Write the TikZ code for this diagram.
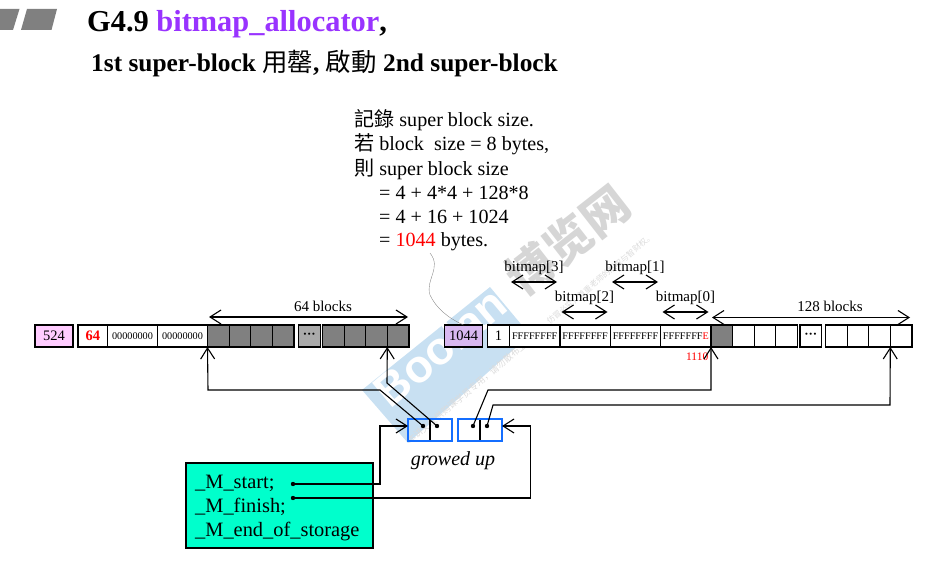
\documentclass[tikz,border=0pt]{standalone}
\usepackage{fontspec}
\setmainfont{Liberation Serif}
\newfontfamily\cjk{Noto Sans CJK TC}
\newfontfamily\cjksc{Noto Sans CJK SC}
\newfontfamily\wmfont{Liberation Sans}
\usetikzlibrary{arrows.meta,positioning}
\definecolor{pinkcell}{RGB}{255,204,255}
\definecolor{violetcell}{RGB}{216,184,240}
\definecolor{graycell}{RGB}{128,128,128}
\definecolor{dotcell}{RGB}{170,170,170}
\definecolor{titlepurple}{RGB}{153,51,255}
\definecolor{slotblue}{RGB}{20,110,255}
\definecolor{greenbox}{RGB}{0,255,204}
\definecolor{bandblue}{RGB}{200,224,242}
\tikzset{
    cell/.style={draw, fill=white, line width=1.2pt, outer sep=0pt, minimum height=22pt, inner sep=0pt, anchor=west, font=\fontsize{14.5}{14.5}\selectfont},
    hexcell/.style={cell, minimum width=50.4pt, font=\fontsize{10.2}{10.2}\selectfont},
    block/.style={cell, minimum width=21.6pt},
    full/.style={block, fill=graycell},
    dots/.style={block, font=\bfseries\fontsize{13}{13}\selectfont},
    slot/.style={minimum width=22pt, minimum height=22pt, inner sep=0pt, outer sep=0pt, anchor=west},
    span/.style={{Straight Barb[length=11pt,width=14pt]}-{Straight Barb[length=11pt,width=14pt]}, line width=1.1pt},
    link/.style={-{Straight Barb[length=11pt,width=14pt]}, line width=1.1pt},
    lab/.style={font=\fontsize{15}{15}\selectfont, inner sep=0pt},
    note/.style={font=\fontsize{20.1}{20.1}\selectfont, inner sep=0pt, anchor=west},
    member/.style={font=\fontsize{20.4}{20.4}\selectfont, inner sep=0pt, anchor=west},
    pin/.style={circle, fill, inner sep=0pt, minimum size=4.4pt}
}
\begin{document}
\begin{tikzpicture}[x=1pt,y=-1pt]
    \useasboundingbox (0,0) rectangle (932,564);

    % watermark goes first
    \fill[bandblue] (362,390) -- (490,287) -- (530,335) -- (408,443) -- cycle;
    \node[rotate=40, text=white, font=\wmfont\bfseries\fontsize{46}{46}\selectfont, inner sep=0pt] (wmboolan) at (440,347) {Boolan};
    \node[rotate=38, text=black!16, font=\cjksc\bfseries\fontsize{47}{47}\selectfont, inner sep=0pt] (wmname) at (568,240) {博览网};
    \node[rotate=40, text=black!14, font=\cjksc\fontsize{9}{9}\selectfont, inner sep=0pt] (wmlineA) at (470,390) {本讲义仅供购课学员专用，请勿散布上传};
    \node[rotate=40, text=black!14, font=\cjksc\fontsize{8}{8}\selectfont, inner sep=0pt] (wmlineB) at (600,279) {仿冒必究，尊重老师的版权与智财权。};

    % title
    \fill[graycell] (0,9) -- (19.5,9) -- (13,30) -- (0,30) -- cycle;
    \fill[graycell] (27,9) -- (57,9) -- (51.5,30) -- (21,30) -- cycle;
    \node[anchor=base west, inner sep=0pt, font=\bfseries\fontsize{30.4}{31}\selectfont] (title) at (87,31.5) {G4.9 \textcolor{titlepurple}{bitmap\_allocator},};
    \node[anchor=base west, inner sep=0pt, font=\bfseries\fontsize{25.4}{26}\selectfont] (subtitle) at (91,72) {1st super-block {\mdseries\cjk 用罄}, {\mdseries\cjk 啟動} 2nd super-block};

    % note
    \node[note] (noteA) at (354,120) {{\cjk 記錄} super block size.};
    \node[note] (noteB) at (354,144) {{\cjk 若} block\ \ size = 8 bytes,};
    \node[note] (noteC) at (354,169) {{\cjk 則} super block size};
    \node[note] (noteD) at (379,193) {= 4 + 4*4 + 128*8};
    \node[note] (noteE) at (379,217) {= 4 + 16 + 1024};
    \node[note] (noteF) at (379,242) {= \textcolor{red}{1044} bytes.};

    % first super-block
    \node[cell, fill=pinkcell, minimum width=38pt] (sizeA) at (35,336) {524};
    \node[cell, minimum width=29.5pt, text=red, font=\bfseries\fontsize{14.5}{14.5}\selectfont] (countA) at (78,336) {64};
    \node[hexcell, minimum width=50pt] (mapAa) at (107.5,336) {00000000};
    \node[hexcell, minimum width=50pt] (mapAb) at (mapAa.east) {00000000};
    \node[full] (fullA) at (207.5,336) {};
    \foreach \name/\prev in {fullB/fullA,fullC/fullB,fullD/fullC}
        \node[full] (\name) at (\prev.east) {};
    \node[dots, fill=dotcell] (dotsA) at (298.5,336) {···};
    \node[full] (fullE) at (322.5,336) {};
    \foreach \name/\prev in {fullF/fullE,fullG/fullF,fullH/fullG}
        \node[full] (\name) at (\prev.east) {};

    % second super-block
    \node[cell, fill=violetcell, minimum width=38pt] (sizeB) at (444.5,336) {1044};
    \node[cell, minimum width=22pt] (countB) at (487.5,336) {1};
    \node[hexcell] (mapBa) at (509.5,336) {FFFFFFFF};
    \node[hexcell] (mapBb) at (mapBa.east) {FFFFFFFF};
    \node[hexcell] (mapBc) at (mapBb.east) {FFFFFFFF};
    \node[hexcell] (mapBd) at (mapBc.east) {FFFFFFF\textcolor{red}{E}};
    \node[full] (freeA) at (711,336) {};
    \foreach \name/\prev in {freeB/freeA,freeC/freeB,freeD/freeC}
        \node[block] (\name) at (\prev.east) {};
    \node[dots] (dotsB) at (800,336) {···};
    \node[block] (freeE) at (825.5,336) {};
    \foreach \name/\prev in {freeF/freeE,freeG/freeF,freeH/freeG}
        \node[block] (\name) at (\prev.east) {};
    \node[anchor=north east, inner sep=0pt, text=red, font=\fontsize{11.5}{11.5}\selectfont] (used) at (708.5,353) {1110};

    % spans
    \coordinate (spanAl) at (209,317);
    \coordinate (spanAr) at (408,317);
    \coordinate (spanBl) at (712,317.5);
    \coordinate (spanBr) at (910,317.5);
    \draw[span] (spanAl) -- (spanAr);
    \draw[span] (spanBl) -- (spanBr);
    \node[lab] (blocksA) at (323,306) {64 blocks};
    \node[lab] (blocksB) at (830,306) {128 blocks};
    \foreach \name/\cx/\cy in {0/685.5/298, 1/635/268, 2/584.5/298, 3/534/268} {
        \node[lab] (bit\name) at (\cx,\cy) {bitmap[\name]};
        \draw[span] ([xshift=-23pt,yshift=-14pt]bit\name.center) -- ([xshift=23pt,yshift=-14pt]bit\name.center);
    }

    % vector
    \node[slot] (startL) at (408,430) {};
    \node[slot] (startR) at (startL.east) {};
    \node[slot] (finishL) at (458,430) {};
    \node[slot] (finishR) at (finishL.east) {};
    \draw[line width=1.1pt] (startL.north east) -- (startL.south east);
    \draw[line width=1.1pt] (finishL.north east) -- (finishL.south east);
    \draw[slotblue, line width=1.6pt] (startL.north west) rectangle (startR.south east);
    \draw[slotblue, line width=1.6pt] (finishL.north west) rectangle (finishR.south east);
    \node[inner sep=0pt, font=\itshape\fontsize{20}{20}\selectfont] (grow) at (453,461) {growed up};
    \node[pin] (pinA) at (423,426) {};
    \node[pin] (pinB) at (437,426) {};
    \node[pin] (pinC) at (473,426) {};
    \node[pin] (pinD) at (487,426) {};

    % allocator
    \node[draw, line width=1.1pt, fill=greenbox, outer sep=0pt, minimum width=187pt, minimum height=85pt, anchor=north west] (alloc) at (186,463) {};
    \node[member] (mstart) at (195,483) {\_M\_start;};
    \node[member] (mfinish) at (195,507) {\_M\_finish;};
    \node[member] (mstorage) at (195,532) {\_M\_end\_of\_storage};
    \node[pin] (pinS) at (293,484) {};
    \node[pin] (pinF) at (293,498) {};

    % connectors
    \draw[link] (pinA.center) -- (380,390) -- (208,390) -- (fullA.south west);
    \draw[link] (pinB.center) -- (387,383) -- (fullH.south west);
    \draw[link] (pinC.center) -- (488,390) -- (711,390) -- (freeA.south west);
    \draw[link] (pinD.center) -- (493,405) -- (890,405) -- (freeH.south west);
    \draw[link] (pinS.center) -- (380,484) -- (380,426) -- (startL.west |- pinA);
    \draw[link] (pinF.center) -- (530.5,498) -- (530.5,426) -- (finishR.east |- pinD);

    % leader from the note
    \coordinate (leadStart) at (430,253);
    \draw[black!50, line width=0.35pt] (leadStart) .. controls (442,268) and (425,280) .. (430,295) .. controls (436,308) and (448,318) .. (sizeB.north);
\end{tikzpicture}
\end{document}
